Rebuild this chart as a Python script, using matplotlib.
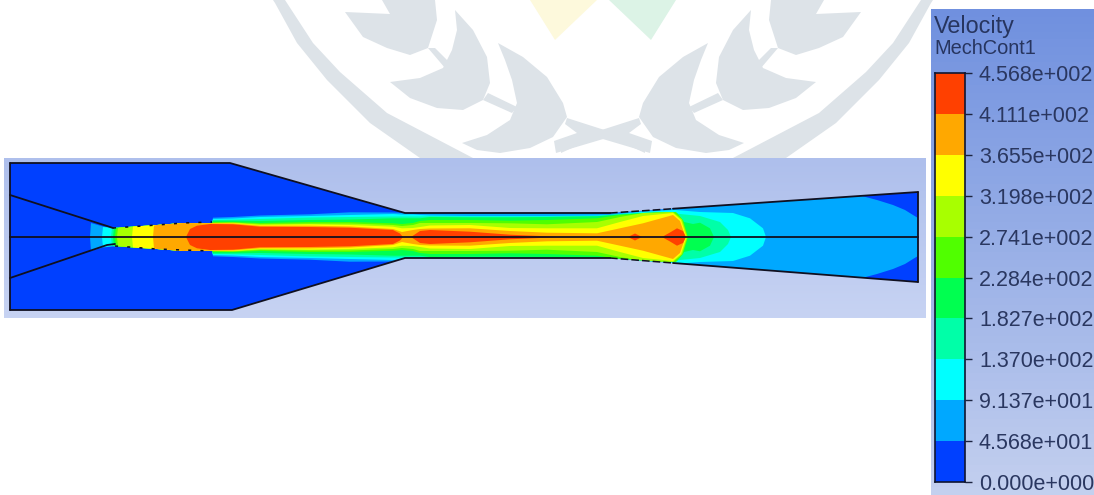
import matplotlib
matplotlib.use("Agg")
import matplotlib.pyplot as plt
import numpy as np
from matplotlib.colors import LinearSegmentedColormap
from matplotlib.patches import Polygon

plt.rcParams["font.family"] = ["Liberation Sans", "DejaVu Sans"]

# legend
LEGEND_TITLE = "Velocity"
LEGEND_SUB = "MechCont1"
LEVELS = [0.0, 45.68, 91.37, 137.0, 182.7, 228.4, 274.1, 319.8, 365.5, 411.1, 456.8]
LEVEL_LABELS = ["0.000e+000", "4.568e+001", "9.137e+001", "1.370e+002", "1.827e+002", "2.284e+002",
                "2.741e+002", "3.198e+002", "3.655e+002", "4.111e+002", "4.568e+002"]
BAND_COLORS = ["#0040ff", "#00a8ff", "#00ffff", "#00ffa8", "#00ff50", "#50ff00",
               "#a8ff00", "#ffff00", "#ffa800", "#ff4000"]

# nozzle outline, image pixels
WALL_X = [10, 230, 405, 610, 673, 918]
WALL_TOP = [163, 163, 213, 213, 208.7, 192]
WALL_BOT_X = [10, 232, 405, 610, 673, 918]
WALL_BOT = [310, 310, 258, 258, 263, 282]
CENTER_Y = 237
INNER_TOP = ([10, 107, 113], [195, 226, 228])
INNER_BOT = ([10, 107, 115], [278, 245, 244])
DASH_TOP = ([113, 157, 183, 212], [228, 225, 223, 222])
DASH_BOT = ([115, 157, 183, 212], [246, 249, 250, 251])

# contour half widths (x stations, half width) for each band above the base blue
LIGHT_X = [90, 91, 103, 113, 120, 157, 183, 212, 213, 233, 260, 310, 350, 393, 410, 610, 673, 860, 877, 893, 905, 913, 918]
LIGHT_H = [0, 14, 10.5, 9.5, 9.5, 12, 14, 14, 19.3, 20, 21.5, 22.7, 24.7, 24.5, 24, 24, 29, 41.5, 37, 32, 27, 22, 19]
CYAN_X = [102, 103, 113, 120, 157, 183, 212, 213, 233, 260, 310, 350, 393, 402, 413, 420, 430, 470, 510, 547, 597, 610, 640, 675, 700, 733, 750, 763, 766]
CYAN_H = [0, 10, 9, 9.5, 12, 14, 14, 18, 18.5, 20, 21, 22, 23, 22.5, 22.5, 22, 21.5, 21, 21, 21, 21.5, 22, 25, 27, 25, 24, 18.7, 8.7, 0]
TEAL_X = [111, 112, 120, 157, 183, 212, 213, 233, 260, 310, 350, 393, 402, 413, 420, 430, 470, 510, 547, 597, 620, 660, 680, 700, 720, 728, 731]
TEAL_H = [0, 9, 9.5, 12, 14, 14, 17, 17.3, 18, 19.5, 20, 20.5, 20.5, 20.5, 20.5, 20.7, 20.5, 20.5, 20.5, 21, 23, 25, 23, 21, 15, 7, 0]
GREEN_X = [113, 114, 120, 157, 183, 212, 213, 233, 260, 310, 350, 393, 402, 413, 420, 430, 470, 510, 547, 597, 620, 660, 677, 684, 693, 700, 710, 714]
GREEN_H = [0, 9, 9.5, 12, 14, 14, 16.3, 16.3, 16, 17, 17.5, 18.7, 18.7, 18.7, 18.7, 20, 19.7, 19.7, 20, 20.7, 22.5, 25, 24, 15, 13, 14.3, 8.7, 0]
LIME_X = [115, 116, 120, 157, 183, 212, 213, 233, 260, 310, 350, 393, 402, 413, 420, 430, 470, 510, 547, 597, 620, 660, 676, 683, 688]
LIME_H = [0, 9, 9.5, 12, 14, 14, 15, 15, 14, 15, 15, 13.7, 13, 14, 16, 17, 17, 16.3, 17, 18.7, 22, 24.5, 25, 17, 0]
YG_X = [117, 118, 120, 157, 183, 212, 233, 260, 310, 350, 393, 402, 413, 420, 430, 470, 510, 547, 597, 620, 643, 673, 682, 687.5]
YG_H = [0, 9, 9.5, 12, 14, 14, 14.5, 13, 13.5, 13.5, 12, 11, 12, 14, 14, 14, 13.7, 12.7, 15, 20, 24, 25, 17.5, 0]
YELLOW_X = [132, 133, 157, 183, 212, 233, 260, 310, 350, 393, 402, 413, 420, 430, 470, 510, 547, 597, 620, 643, 673, 681, 686.5]
YELLOW_H = [0, 10.5, 12, 14, 14, 14, 12, 12.7, 12, 10.3, 8.7, 9, 10, 11.5, 12, 9, 8.7, 8.7, 15, 21, 24, 17, 0]
ORANGE_X = [153, 154, 157, 183, 212, 233, 260, 310, 350, 393, 402, 413, 420, 430, 470, 510, 547, 597, 620, 643, 673, 680, 685.5]
ORANGE_H = [0, 11.5, 12, 14, 13.7, 13.5, 11.3, 11.3, 10.5, 8, 5, 7, 8, 8.5, 8.7, 6, 4.3, 3.7, 8.7, 13.7, 22, 16, 0]
RED_X = [186, 190, 197, 210, 233, 260, 310, 350, 393, 400, 403]
RED_H = [0, 8, 11.3, 13, 12.7, 10.3, 10, 9.3, 7, 3.5, 0]
RED2_X = [411, 420, 430, 470, 510, 547, 557]
RED2_H = [0, 6, 7, 5.3, 2.3, 0.7, 0]
RED3_X = [628, 635, 642]
RED3_H = [0, 3.5, 0]
RED4_X = [662, 670, 677, 683, 686]
RED4_H = [0, 4.5, 8.7, 6, 0]

# watermark shapes, image pixels
WREATH_RING = [(275, 3), (297, 43), (327, 80), (370, 123), (420, 158), (473, 158),
               (387, 113), (340, 72), (313, 43), (285, 0), (273, 0)]
WREATH_LEAF_A = [(345, 12), (390, 14), (382, 0), (435, 0), (437, 20), (428, 48), (410, 55), (387, 48), (363, 37)]
WREATH_LEAF_B = [(455, 10), (473, 30), (487, 57), (490, 83), (483, 100), (463, 110), (437, 108), (410, 98), (390, 82),
                 (420, 78), (443, 68), (452, 50), (457, 30)]
WREATH_LEAF_C = [(498, 43), (523, 57), (547, 77), (563, 103), (567, 117), (553, 137), (530, 148), (500, 153), (477, 150),
                 (462, 143), (487, 135), (510, 120), (517, 103), (512, 80), (505, 60)]
WREATH_STEM_A = [(428, 48), (435, 48), (450, 63), (445, 68)]
WREATH_STEM_B = [(488, 93), (517, 107), (512, 113), (483, 100)]
WREATH_STEM_C = [(567, 118), (645, 143), (645, 153), (610, 137), (556, 153), (554, 141), (577, 133), (565, 124)]
MIRROR_X = 603
FLAG_YELLOW = [(530, 0), (597, 0), (555, 40)]
FLAG_GREEN = [(609, 0), (676, 0), (651, 40)]


def gradient(ax, extent, top, bottom):
    cmap = LinearSegmentedColormap.from_list("bg", [top, bottom])
    ax.imshow(np.linspace(0, 1, 64).reshape(-1, 1), extent=extent, cmap=cmap, aspect="auto", zorder=1)


def draw_watermark(ax):
    for shape in [WREATH_RING, WREATH_LEAF_A, WREATH_LEAF_B, WREATH_LEAF_C, WREATH_STEM_A, WREATH_STEM_B, WREATH_STEM_C]:
        ax.add_patch(Polygon(shape, closed=True, fc="#dde3e8", ec="none", zorder=0))
        mirrored = [(2 * MIRROR_X - x, y) for x, y in shape]
        ax.add_patch(Polygon(mirrored, closed=True, fc="#dde3e8", ec="none", zorder=0))
    ax.add_patch(Polygon(FLAG_YELLOW, closed=True, fc="#fdf9dc", ec="none", zorder=0))
    ax.add_patch(Polygon(FLAG_GREEN, closed=True, fc="#dcf3e6", ec="none", zorder=0))


def draw_field(ax):
    top = list(zip(WALL_X, WALL_TOP))
    bottom = list(zip(WALL_BOT_X, WALL_BOT))
    domain = Polygon(top + bottom[::-1], closed=True, fc=BAND_COLORS[0], ec="none", zorder=2)
    ax.add_patch(domain)
    bands = [
        (LIGHT_X, LIGHT_H, 1), (CYAN_X, CYAN_H, 2), (TEAL_X, TEAL_H, 3), (GREEN_X, GREEN_H, 4),
        (LIME_X, LIME_H, 5), (YG_X, YG_H, 6), (YELLOW_X, YELLOW_H, 7), (ORANGE_X, ORANGE_H, 8),
        (RED_X, RED_H, 9), (RED2_X, RED2_H, 9), (RED3_X, RED3_H, 9), (RED4_X, RED4_H, 9),
    ]
    for xs, hs, level in bands:
        ys_top = [CENTER_Y - h for h in hs]
        ys_bot = [CENTER_Y + h for h in hs]
        verts = list(zip(xs, ys_top)) + list(zip(xs, ys_bot))[::-1]
        patch = Polygon(verts, closed=True, fc=BAND_COLORS[level], ec="none", zorder=3)
        ax.add_patch(patch)
        patch.set_clip_path(domain)

    line = dict(color="#101020", lw=1.3, zorder=5, solid_capstyle="round")
    dash = dict(color="#101020", lw=1.1, ls=(0, (2, 6)), zorder=5)
    wall_dash = dict(color="#101020", lw=1.1, ls=(0, (5, 2)), zorder=5)
    ax.plot(WALL_X[:4], WALL_TOP[:4], **line)
    ax.plot(WALL_BOT_X[:4], WALL_BOT[:4], **line)
    ax.plot(WALL_X[3:5], WALL_TOP[3:5], **wall_dash)
    ax.plot(WALL_BOT_X[3:5], WALL_BOT[3:5], **wall_dash)
    ax.plot(WALL_X[4:], WALL_TOP[4:], **line)
    ax.plot(WALL_BOT_X[4:], WALL_BOT[4:], **line)
    ax.plot([WALL_X[0], WALL_X[0]], [WALL_TOP[0], WALL_BOT[0]], **line)
    ax.plot([WALL_X[-1], WALL_X[-1]], [WALL_TOP[-1], WALL_BOT[-1]], **line)
    ax.plot([WALL_X[0], WALL_X[-1]], [CENTER_Y, CENTER_Y], **line)
    ax.plot(*INNER_TOP, **line)
    ax.plot(*INNER_BOT, **line)
    ax.plot(*DASH_TOP, **dash)
    ax.plot(*DASH_BOT, **dash)


def draw_legend(fig):
    ax = fig.add_axes([935 / 1094, 1 - 482 / 495, 30 / 1094, 409 / 495], zorder=3)
    for i, color in enumerate(BAND_COLORS):
        ax.bar(0.5, LEVELS[i + 1] - LEVELS[i], bottom=LEVELS[i], width=1, color=color, lw=0)
    ax.set_xlim(0, 1)
    ax.set_ylim(LEVELS[0], LEVELS[-1])
    ax.set_xticks([])
    ax.yaxis.tick_right()
    ax.set_yticks(LEVELS)
    ax.set_yticklabels(LEVEL_LABELS, fontsize=15.5, color="#2a3760")
    ax.tick_params(axis="y", length=5, width=1, color="#1c2440", pad=5)
    for spine in ax.spines.values():
        spine.set_linewidth(1.2)
        spine.set_color("#101530")


def main():
    fig = plt.figure(figsize=(10.94, 4.95), dpi=100, facecolor="white")
    ax = fig.add_axes([0, 0, 1, 1])
    ax.set_xlim(0, 1094)
    ax.set_ylim(495, 0)
    ax.axis("off")

    draw_watermark(ax)
    gradient(ax, (4, 926, 318, 158), "#aebfec", "#c7d3f3")
    gradient(ax, (931, 1094, 495, 9), "#7090df", "#c3d0ef")
    ax.set_xlim(0, 1094)
    ax.set_ylim(495, 0)
    draw_field(ax)
    draw_legend(fig)

    ax.text(934, 27, LEGEND_TITLE, fontsize=16.8, color="#27355f", va="center", ha="left", zorder=6)
    ax.text(934, 48, LEGEND_SUB, fontsize=14.4, color="#27355f", va="center", ha="left", zorder=6)

    fig.savefig("out.png", dpi=100)
    plt.close(fig)


if __name__ == "__main__":
    main()
